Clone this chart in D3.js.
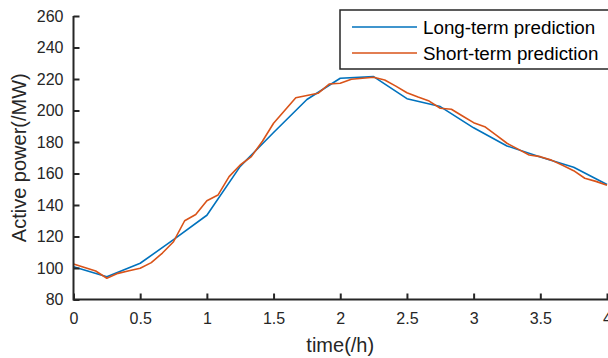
<!DOCTYPE html>
<html>
<head>
<meta charset="utf-8">
<script src="https://cdn.jsdelivr.net/npm/d3@7"></script>
<style>
  html, body { margin: 0; padding: 0; background: #fff; }
  svg { display: block; font-family: "Liberation Sans", Arial, sans-serif; }
</style>
</head>
<body>
<svg id="chart" width="608" height="358"></svg>
<script>
// ---- data ----
const longTime = [0, 0.25, 0.5, 0.75, 1, 1.25, 1.5, 1.75, 2, 2.25, 2.5, 2.75, 3, 3.25, 3.5, 3.75, 4];
const longValues = [100.8, 94.5, 103, 118, 133.5, 164.5, 186, 207, 220.5, 221.5, 207.5, 202.5, 189, 177.5, 170.5, 164, 153];
const shortTime = d3.range(49).map(i => i / 12);
const shortValues = [102.5, 100.3, 98.1, 93.5, 96.6, 98.2, 99.8, 103.4, 109.5, 116.7, 130, 134,
  142.7, 146.3, 158, 165.4, 170.7, 180.5, 191.9, 200, 208.1, 209.5, 210.9, 216.8,
  217.3, 219.8, 220.5, 221.1, 219.4, 215.5, 211.3, 208.5, 206, 201.4, 200.8, 196.5,
  192.3, 189.7, 184.5, 179.2, 175.5, 171.7, 170.7, 168.5, 165.2, 161.8, 157, 155, 152.5];
const xTicks = [0, 0.5, 1, 1.5, 2, 2.5, 3, 3.5, 4];
const yTicks = [80, 100, 120, 140, 160, 180, 200, 220, 240, 260];
const seriesNames = ["Long-term prediction", "Short-term prediction"];
const seriesColors = ["#0072BD", "#D95319"];
const xLabel = "time(/h)";
const yLabel = "Active power(/MW)";

// ---- layout ----
const svg = d3.select("#chart");
const mLeft = 73.5, mRight = 607, mTop = 16, mBottom = 299.5;
const x = d3.scaleLinear().domain([0, 4]).range([mLeft, mRight]);
const y = d3.scaleLinear().domain([80, 260]).range([mBottom, mTop]);
const axisColor = "#262626";

// lines
const line = d3.line().x(d => x(d[0])).y(d => y(d[1]));
const series = [
  d3.zip(longTime, longValues),
  d3.zip(shortTime, shortValues)
];
svg.selectAll("path.series").data(series).join("path")
  .attr("class", "series")
  .attr("fill", "none")
  .attr("stroke", (d, i) => seriesColors[i])
  .attr("stroke-width", 1.6)
  .attr("stroke-linejoin", "round")
  .attr("d", line);

// axes
const xAxis = d3.axisBottom(x).tickValues(xTicks).tickSize(-6).tickPadding(13)
  .tickFormat(d3.format("~g"));
const yAxis = d3.axisLeft(y).tickValues(yTicks).tickSize(-6).tickPadding(10);

const gx = svg.append("g").attr("transform", `translate(0,${mBottom})`).call(xAxis);
const gy = svg.append("g").attr("transform", `translate(${mLeft},0)`).call(yAxis);
[gx, gy].forEach(g => {
  g.select(".domain").attr("stroke", axisColor).attr("stroke-width", 2);
  g.selectAll(".tick line").attr("stroke", axisColor).attr("stroke-width", 2);
  g.selectAll(".tick text").attr("fill", "#262626").style("font-size", "16px")
    .style("font-family", "'Liberation Sans', Arial, sans-serif");
});
gx.select(".domain").attr("d", `M${mLeft},0H${mRight + 1}`);
gy.select(".domain").attr("d", `M0,${mTop}V${mBottom + 1}`);

// axis labels
svg.append("text")
  .attr("x", (mLeft + mRight) / 2).attr("y", 352)
  .attr("text-anchor", "middle")
  .attr("fill", "#262626")
  .style("font-size", "20px")
  .text(xLabel);
svg.append("text")
  .attr("transform", `translate(26,${(mTop + mBottom) / 2}) rotate(-90)`)
  .attr("text-anchor", "middle")
  .attr("fill", "#262626")
  .style("font-size", "20px")
  .text(yLabel);

// legend
const lg = svg.append("g");
lg.append("rect")
  .attr("x", 340).attr("y", 10).attr("width", 280).attr("height", 59)
  .attr("fill", "#fff").attr("stroke", "#262626").attr("stroke-width", 1.5);
seriesNames.forEach((name, i) => {
  const cy = 27 + i * 26;
  lg.append("line")
    .attr("x1", 352).attr("x2", 417).attr("y1", cy).attr("y2", cy)
    .attr("stroke", seriesColors[i]).attr("stroke-width", 1.6);
  lg.append("text")
    .attr("x", 423).attr("y", cy).attr("dy", "0.35em")
    .attr("fill", "#000")
    .style("font-size", "18.8px")
    .text(name);
});
</script>
</body>
</html>
